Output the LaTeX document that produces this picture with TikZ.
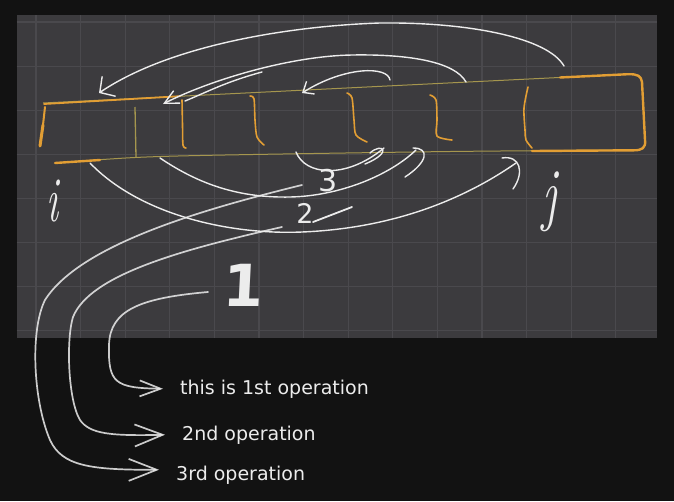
\documentclass[tikz,border=0pt]{standalone}
\usepackage{fontspec}
\newfontfamily\hand{DejaVu Sans}
\usetikzlibrary{arrows.meta}
\definecolor{outer}{RGB}{18,18,18}
\definecolor{board}{RGB}{60,59,62}
\definecolor{gridline}{RGB}{74,73,77}
\definecolor{chalk}{RGB}{236,236,236}
\definecolor{marker}{RGB}{226,158,52}
\definecolor{olive}{RGB}{165,150,78}

\begin{document}
\begin{tikzpicture}[x=1pt, y=-1pt,
  pen/.style={draw=chalk, line width=1.4pt, line cap=round, line join=round},
  lead/.style={pen, line width=1.7pt, draw opacity=0.85},
  cell/.style={draw=marker, line width=1.6pt, line cap=round},
  rim/.style={draw=marker, line width=2.4pt, line cap=round, line join=round},
  guide/.style={draw=olive, line width=1pt},
  chalktext/.style={text=chalk, inner sep=0pt},
  optext/.style={chalktext, font=\hand\fontsize{19}{22}\selectfont, anchor=base west, inner xsep=17pt}
]
% board and grid
\fill[outer] (0,0) rectangle (674,501);
\useasboundingbox (0,0) rectangle (674,501);
\fill[board] (16.7,15) rectangle (657,338);
\foreach \k in {0,...,13}
  \draw[gridline, line width=1.2pt] ({36+44.6*\k},15) -- ({36+44.6*\k},338);
\foreach \k in {0,...,7}
  \draw[gridline, line width=1.2pt] (16.7,{22+44.1*\k}) -- (657,{22+44.1*\k});

% the array
\draw[guide] (43,103) -- (630,74);
\draw[guide] plot[smooth] coordinates {(55,163) (135,157.5) (225,155) (450,151.5) (636,150)};
\draw[rim, line width=1.8pt] (44,104) -- (180,96.2);
\draw[rim, line width=2pt] (45,107) -- (43,125);
\draw[rim, line width=3pt] (43,125) -- (40,146);
\draw[rim] (55,163) -- (100,160);
\draw[rim] (560,77.5) -- (628,74.2) .. controls (638,74) and (641,76) .. (642,82)
  -- (645,140) .. controls (646,148) and (642,150.3) .. (634,150.3) -- (532,151);
\draw[guide, line width=1.3pt] (135,107) -- (136,157);
\draw[cell] plot[smooth] coordinates {(182,100) (182.5,125) (183,145) (186,148)};
\draw[cell] plot[smooth] coordinates {(250,96) (254,99) (255,120) (257,137) (264,145)};
\draw[cell] plot[smooth] coordinates {(347,93) (352,98) (354,120) (356,135) (367,142)};
\draw[cell] plot[smooth] coordinates {(430,95) (436,100) (437,120) (437,136) (452,140)};
\draw[cell] plot[smooth] coordinates {(528,87) (524,108) (525,130) (526,140) (532,148)};

% labels
\node[chalktext, font=\itshape\fontsize{40}{40}\selectfont, yscale=1.6] (i) at (52,201) {i};
\node[chalktext, font=\itshape\fontsize{44}{44}\selectfont, xscale=1.1, yscale=1.6] (j) at (550,202) {j};
\node[chalktext, font=\hand\bfseries\fontsize{58}{58}\selectfont, xslant=0.05] (one) at (244,285) {1};
\node[chalktext, font=\hand\fontsize{27}{27}\selectfont] (two) at (305,213) {2};
\node[chalktext, font=\hand\fontsize{30}{30}\selectfont] (three) at (328,181) {3};
\node[optext] (op1) at (163,394) {this is 1st operation};
\node[optext] (op2) at (165,440) {2nd operation};
\node[optext] (op3) at (159,480) {3rd operation};

% arrow ends
\coordinate (aS) at (564,66);  \coordinate (aE) at (99,93);
\coordinate (bS) at (466,82);  \coordinate (bE) at (163,104);
\coordinate (cS) at (390,80);  \coordinate (cE) at (302,93);
\coordinate (jS) at (90,163);  \coordinate (jE) at (516,163);
\coordinate (tS) at (160,158); \coordinate (tE) at (416,150);
\coordinate (hS) at (296,152); \coordinate (hE) at (384,148);
\coordinate (l1) at (208,292);
\coordinate (l2) at (282,227);
\coordinate (l3) at (302,185);

% swaps above
\draw[pen, -{Straight Barb[length=11pt,width=24pt]}] (aS) .. controls (548,38) and (470,22) .. (380,23)
  .. controls (290,26) and (170,45) .. (aE);
\draw[pen, -{Straight Barb[length=14pt,width=14pt]}] (bS) .. controls (455,62) and (410,54) .. (352,55)
  .. controls (290,56) and (210,80) .. (bE);
\draw[pen] (185,101) .. controls (205,93) and (225,82) .. (262,72);
\draw[pen, -{Straight Barb[length=9pt,width=15pt]}] (cS) .. controls (388,66) and (345,66) .. (cE);

% swaps below
\draw[pen] (jS) .. controls (140,215) and (230,235) .. (302,232)
  .. controls (400,228) and (470,195) .. (jE);
\draw[pen] (502,158) .. controls (520,155) and (525,172) .. (513,189);
\draw[pen] (tS) .. controls (200,185) and (240,198) .. (290,197)
  .. controls (340,196) and (390,175) .. (tE);
\draw[pen] (413,148) .. controls (430,148) and (428,162) .. (405,177);
\draw[pen] (hS) .. controls (305,175) and (345,180) .. (hE);
\draw[pen] (370,153) .. controls (382,142) and (394,152) .. (365,164);
\draw[pen, line width=1.8pt] (313,222) -- (352,207);

% leaders
\draw[lead, -{Straight Barb[length=21pt,width=16pt]}] (l1) .. controls (140,298) and (110,310) .. (109,345)
  .. controls (108,383) and (115,388) .. (op1.west);
\draw[lead, -{Straight Barb[length=28pt,width=22pt]}] (l2) .. controls (180,250) and (90,275) .. (73,317)
  .. controls (66,340) and (68,400) .. (80,420) .. controls (90,434) and (110,436) .. (op2.west);
\draw[lead, -{Straight Barb[length=28pt,width=22pt]}] (l3) .. controls (200,210) and (80,245) .. (45,300)
  .. controls (30,330) and (33,400) .. (50,440) .. controls (62,466) and (90,470) .. ([yshift=5pt]op3.west);
\end{tikzpicture}
\end{document}
